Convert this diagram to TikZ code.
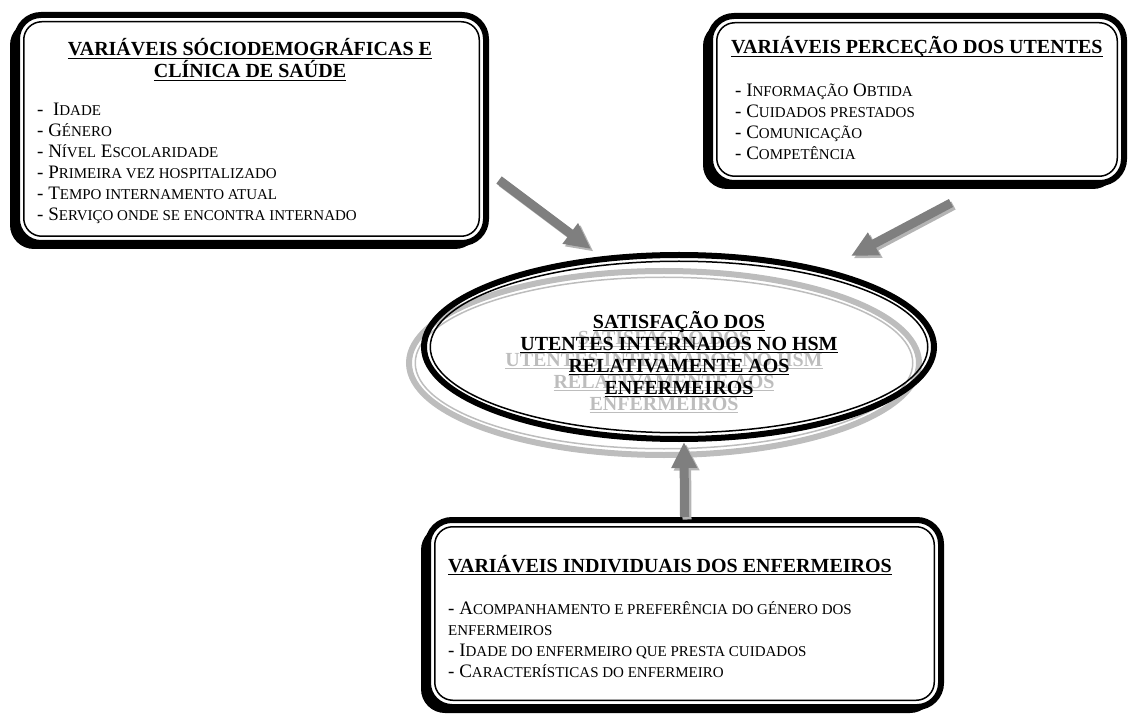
\documentclass[tikz,border=0pt]{standalone}
\usepackage{fontspec}
\setmainfont{Liberation Serif}
\usetikzlibrary{shapes, positioning, shadows, arrows.meta}

\definecolor{arrowgrey}{HTML}{7F7F7F}
\definecolor{arrowshade}{HTML}{B4B4B4}
\definecolor{ghostgrey}{HTML}{BDBDBD}

\newsavebox{\hdbox}
\newcommand{\sm}[1]{{\fontsize{15}{21}\selectfont #1}}
\newcommand{\hd}[1]{\sbox{\hdbox}{#1}\rlap{\rule[-3pt]{\wd\hdbox}{1.2pt}}\usebox{\hdbox}}

\tikzset{
  varbox/.style={rectangle, draw, fill=white, line width=6pt, rounded corners=24pt, inner sep=0pt,
    drop shadow={shadow xshift=-7pt, shadow yshift=-6pt, fill=black, opacity=1}},
  varinner/.style={rectangle, draw, line width=1.5pt, rounded corners=18pt, inner sep=0pt},
  satellipse/.style={ellipse, draw, line width=6pt, minimum width=510pt, minimum height=184pt, inner sep=0pt},
  headtext/.style={font=\fontsize{20}{22}\selectfont\bfseries, align=center, inner sep=0pt},
  itemtext/.style={font=\fontsize{19}{21}\selectfont, align=left, inner sep=0pt},
  bigarrow/.style={draw=arrowgrey, line width=9pt, -{Triangle[length=26pt,width=24pt]}},
  arrowshadow/.style={draw=arrowshade, line width=9pt, -{Triangle[length=26pt,width=24pt]},
    transform canvas={shift={(2.5pt,-2.5pt)}}}
}

\begin{document}
\begin{tikzpicture}[x=1pt,y=1pt]
          \useasboundingbox (0,0) rectangle (1129,713);

          \node[varbox, minimum width=469pt, minimum height=228pt] (sociobox) at (251.5,584) {};
          \node[varinner, minimum width=455.5pt, minimum height=214.5pt] (socioinner) at (sociobox.center) {};
          \node[headtext, anchor=base] (sociotitle) at (250,635)
            {\hd{VARIÁVEIS SÓCIODEMOGRÁFICAS E}\\\hd{CLÍNICA DE SAÚDE}};
          \node[itemtext, anchor=base west] (socioitems) at (37,492)
            {-\ \ I\sm{DADE}\\- G\sm{ÉNERO}\\- N\sm{ÍVEL} E\sm{SCOLARIDADE}\\- P\sm{RIMEIRA VEZ HOSPITALIZADO}\\- T\sm{EMPO INTERNAMENTO ATUAL}\\- S\sm{ERVIÇO ONDE SE ENCONTRA INTERNADO}};

          \node[varbox, minimum width=414pt, minimum height=167pt] (percebox) at (917,613.5) {};
          \node[varinner, minimum width=400.5pt, minimum height=153.5pt] (perceinner) at (percebox.center) {};
          \node[headtext, anchor=base west] (percetitle) at (731,659) {\hd{VARIÁVEIS PERCEÇÃO DOS UTENTES}};
          \node[itemtext, anchor=base west] (perceitems) at (735,553.5)
            {- I\sm{NFORMAÇÃO} O\sm{BTIDA}\\- C\sm{UIDADOS PRESTADOS}\\- C\sm{OMUNICAÇÃO}\\- C\sm{OMPETÊNCIA}};

          \node[varbox, minimum width=513pt, minimum height=187pt] (enfbox) at (684.5,99.5) {};
          \node[varinner, minimum width=499.5pt, minimum height=173.5pt] (enfinner) at (enfbox.center) {};
          \node[headtext, anchor=base west] (enftitle) at (448,141) {\hd{VARIÁVEIS INDIVIDUAIS DOS ENFERMEIROS}};
          \node[itemtext, anchor=base west] (enfitems) at (448,36)
            {- A\sm{COMPANHAMENTO E PREFERÊNCIA DO GÉNERO DOS}\\\sm{ENFERMEIROS}\\- I\sm{DADE DO ENFERMEIRO QUE PRESTA CUIDADOS}\\- C\sm{ARACTERÍSTICAS DO ENFERMEIRO}};

          \node[satellipse, draw=ghostgrey] (satghost) at (664,350) {};
          \draw[ghostgrey, line width=1.5pt] (satghost.center) ellipse [x radius=248.75pt, y radius=85.75pt];
          \node[headtext, anchor=base, text=ghostgrey] (satghosttext) at (664,303)
            {\hd{SATISFAÇÃO DOS}\\\hd{UTENTES INTERNADOS NO HSM}\\\hd{RELATIVAMENTE AOS}\\\hd{ENFERMEIROS}};

          \node[satellipse] (satisfacao) at (679,366) {};
          \draw[line width=1.5pt] (satisfacao.center) ellipse [x radius=248.75pt, y radius=85.75pt];
          \node[headtext, anchor=base] (sattext) at (679,319)
            {\hd{SATISFAÇÃO DOS}\\\hd{UTENTES INTERNADOS NO HSM}\\\hd{RELATIVAMENTE AOS}\\\hd{ENFERMEIROS}};

          \coordinate (sociotail) at (499,533);
          \coordinate (sociotip) at (591,464);
          \coordinate (percetail) at (951,510);
          \coordinate (percetip) at (851,457);
          \coordinate (enftip) at (684,271);

          \draw[arrowshadow] (sociotail) -- (sociotip);
          \draw[bigarrow] (sociotail) -- (sociotip);
          \draw[arrowshadow] (percetail) -- (percetip);
          \draw[bigarrow] (percetail) -- (percetip);
          \draw[arrowshadow] (enfbox.north) -- (enftip);
          \draw[bigarrow] (enfbox.north) -- (enftip);
        \end{tikzpicture}
\end{document}
